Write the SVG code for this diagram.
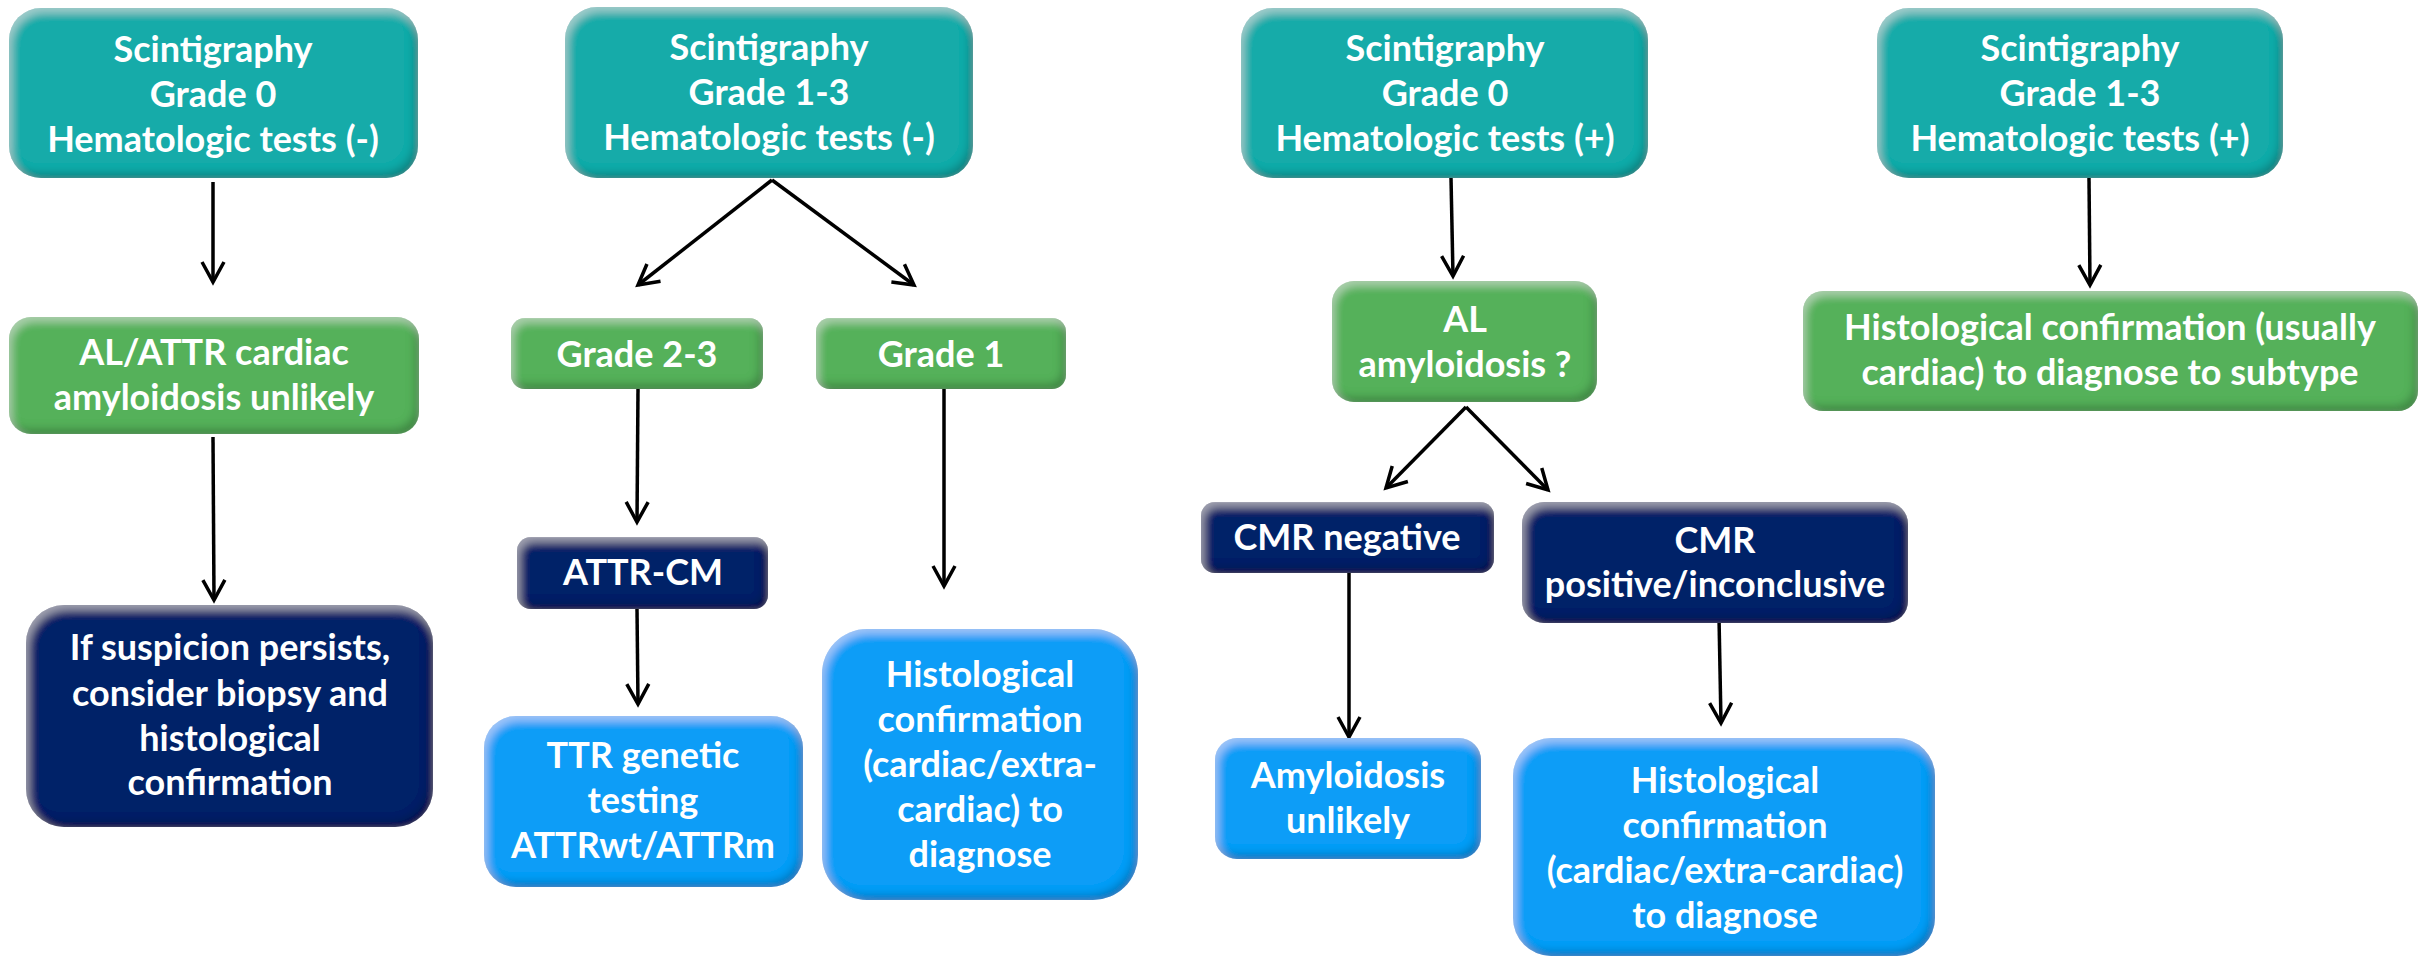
<svg xmlns="http://www.w3.org/2000/svg" width="2422" height="958" viewBox="0 0 2422 958">
<defs>
<style>
.t{font-family:Lato,"Open Sans","Liberation Sans",sans-serif;font-weight:bold;font-size:36px;fill:#fff;text-anchor:middle}
.teal{fill:#15aba9}
.green{fill:#55b15a}
.navy{fill:#062468}
.blue{fill:#089df7}
.c line{stroke:#000;stroke-width:3.5;marker-end:url(#ah)}
</style>
<filter id="bev" x="-5%" y="-5%" width="110%" height="110%">
<feGaussianBlur in="SourceAlpha" stdDeviation="4" result="b"/>
<feOffset in="b" dx="-4" dy="-5" result="o1"/>
<feComposite in="SourceAlpha" in2="o1" operator="out" result="in1"/>
<feFlood flood-color="#000" flood-opacity="0.45"/>
<feComposite in2="in1" operator="in" result="sh"/>
<feOffset in="b" dx="3" dy="5" result="o2"/>
<feComposite in="SourceAlpha" in2="o2" operator="out" result="in2"/>
<feFlood flood-color="#fff" flood-opacity="0.35"/>
<feComposite in2="in2" operator="in" result="hl"/>
<feMerge><feMergeNode in="SourceGraphic"/><feMergeNode in="sh"/><feMergeNode in="hl"/></feMerge>
</filter>
<marker id="ah" markerUnits="userSpaceOnUse" markerWidth="40" markerHeight="40" orient="auto" overflow="visible">
<path d="M-20,-11 L0,0 L-20,11" fill="none" stroke="#000" stroke-width="3.5"/>
</marker>
</defs>

<g class="c" id="connectors">
<line x1="213" y1="182" x2="213" y2="282"/>
<line x1="772" y1="180" x2="638" y2="285"/>
<line x1="772" y1="180" x2="914" y2="285"/>
<line x1="1451" y1="178" x2="1453" y2="276"/>
<line x1="2089" y1="178" x2="2090" y2="285"/>
<line x1="213" y1="437" x2="214" y2="600"/>
<line x1="638" y1="389" x2="637" y2="522"/>
<line x1="944" y1="389" x2="944" y2="586"/>
<line x1="637" y1="609" x2="638" y2="704"/>
<line x1="1466" y1="407" x2="1386" y2="488"/>
<line x1="1466" y1="407" x2="1548" y2="490"/>
<line x1="1349" y1="573" x2="1349" y2="737"/>
<line x1="1719" y1="617" x2="1721" y2="723"/>
</g>

<g id="n-teal1"><rect class="teal" filter="url(#bev)" x="9" y="8" width="409" height="170" rx="32"/>
<text class="t" x="213" y="62">Scintigraphy</text><text class="t" x="213" y="107">Grade 0</text><text class="t" x="213" y="152">Hematologic tests (-)</text></g>

<g id="n-teal2"><rect class="teal" filter="url(#bev)" x="565" y="7" width="408" height="171" rx="32"/>
<text class="t" x="769" y="60">Scintigraphy</text><text class="t" x="769" y="105">Grade 1-3</text><text class="t" x="769" y="150">Hematologic tests (-)</text></g>

<g id="n-teal3"><rect class="teal" filter="url(#bev)" x="1241" y="8" width="407" height="170" rx="32"/>
<text class="t" x="1445" y="61">Scintigraphy</text><text class="t" x="1445" y="106">Grade 0</text><text class="t" x="1445" y="151">Hematologic tests (+)</text></g>

<g id="n-teal4"><rect class="teal" filter="url(#bev)" x="1877" y="8" width="406" height="170" rx="32"/>
<text class="t" x="2080" y="61">Scintigraphy</text><text class="t" x="2080" y="106">Grade 1-3</text><text class="t" x="2080" y="151">Hematologic tests (+)</text></g>

<g id="n-green1"><rect class="green" filter="url(#bev)" x="9" y="317" width="410" height="117" rx="22"/>
<text class="t" x="214" y="365">AL/ATTR cardiac</text><text class="t" x="214" y="410">amyloidosis unlikely</text></g>

<g id="n-grade23"><rect class="green" filter="url(#bev)" x="511" y="318" width="252" height="71" rx="14"/>
<text class="t" x="637" y="367">Grade 2-3</text></g>

<g id="n-grade1"><rect class="green" filter="url(#bev)" x="816" y="318" width="250" height="71" rx="14"/>
<text class="t" x="941" y="367">Grade 1</text></g>

<g id="n-al"><rect class="green" filter="url(#bev)" x="1332" y="281" width="265" height="121" rx="22"/>
<text class="t" x="1465" y="332">AL</text><text class="t" x="1465" y="377">amyloidosis ?</text></g>

<g id="n-green4"><rect class="green" filter="url(#bev)" x="1803" y="291" width="615" height="120" rx="20"/>
<text class="t" x="2110" y="340">Histological confirmation (usually</text><text class="t" x="2110" y="385">cardiac) to diagnose to subtype</text></g>

<g id="n-attrcm"><rect class="navy" filter="url(#bev)" x="517" y="537" width="251" height="72" rx="14"/>
<text class="t" x="643" y="585">ATTR-CM</text></g>

<g id="n-cmrneg"><rect class="navy" filter="url(#bev)" x="1201" y="502" width="293" height="71" rx="14"/>
<text class="t" x="1347" y="550">CMR negative</text></g>

<g id="n-cmrpos"><rect class="navy" filter="url(#bev)" x="1522" y="502" width="386" height="121" rx="22"/>
<text class="t" x="1715" y="553">CMR</text><text class="t" x="1715" y="597">positive/inconclusive</text></g>

<g id="n-suspicion"><rect class="navy" filter="url(#bev)" x="26" y="605" width="407" height="222" rx="38"/>
<text class="t" x="230" y="660">If suspicion persists,</text><text class="t" x="230" y="706">consider biopsy and</text><text class="t" x="230" y="751">histological</text><text class="t" x="230" y="795">confirmation</text></g>

<g id="n-ttr"><rect class="blue" filter="url(#bev)" x="484" y="716" width="319" height="171" rx="32"/>
<text class="t" x="643" y="768">TTR genetic</text><text class="t" x="643" y="813">testing</text><text class="t" x="643" y="858">ATTRwt/ATTRm</text></g>

<g id="n-histmid"><rect class="blue" filter="url(#bev)" x="822" y="629" width="316" height="271" rx="45"/>
<text class="t" x="980" y="687">Histological</text><text class="t" x="980" y="732">confirmation</text><text class="t" x="980" y="777">(cardiac/extra-</text><text class="t" x="980" y="822">cardiac) to</text><text class="t" x="980" y="867">diagnose</text></g>

<g id="n-amyunlikely"><rect class="blue" filter="url(#bev)" x="1215" y="738" width="266" height="121" rx="22"/>
<text class="t" x="1348" y="788">Amyloidosis</text><text class="t" x="1348" y="833">unlikely</text></g>

<g id="n-histright"><rect class="blue" filter="url(#bev)" x="1513" y="738" width="422" height="218" rx="38"/>
<text class="t" x="1725" y="793">Histological</text><text class="t" x="1725" y="838">confirmation</text><text class="t" x="1725" y="883">(cardiac/extra-cardiac)</text><text class="t" x="1725" y="928">to diagnose</text></g>
</svg>
